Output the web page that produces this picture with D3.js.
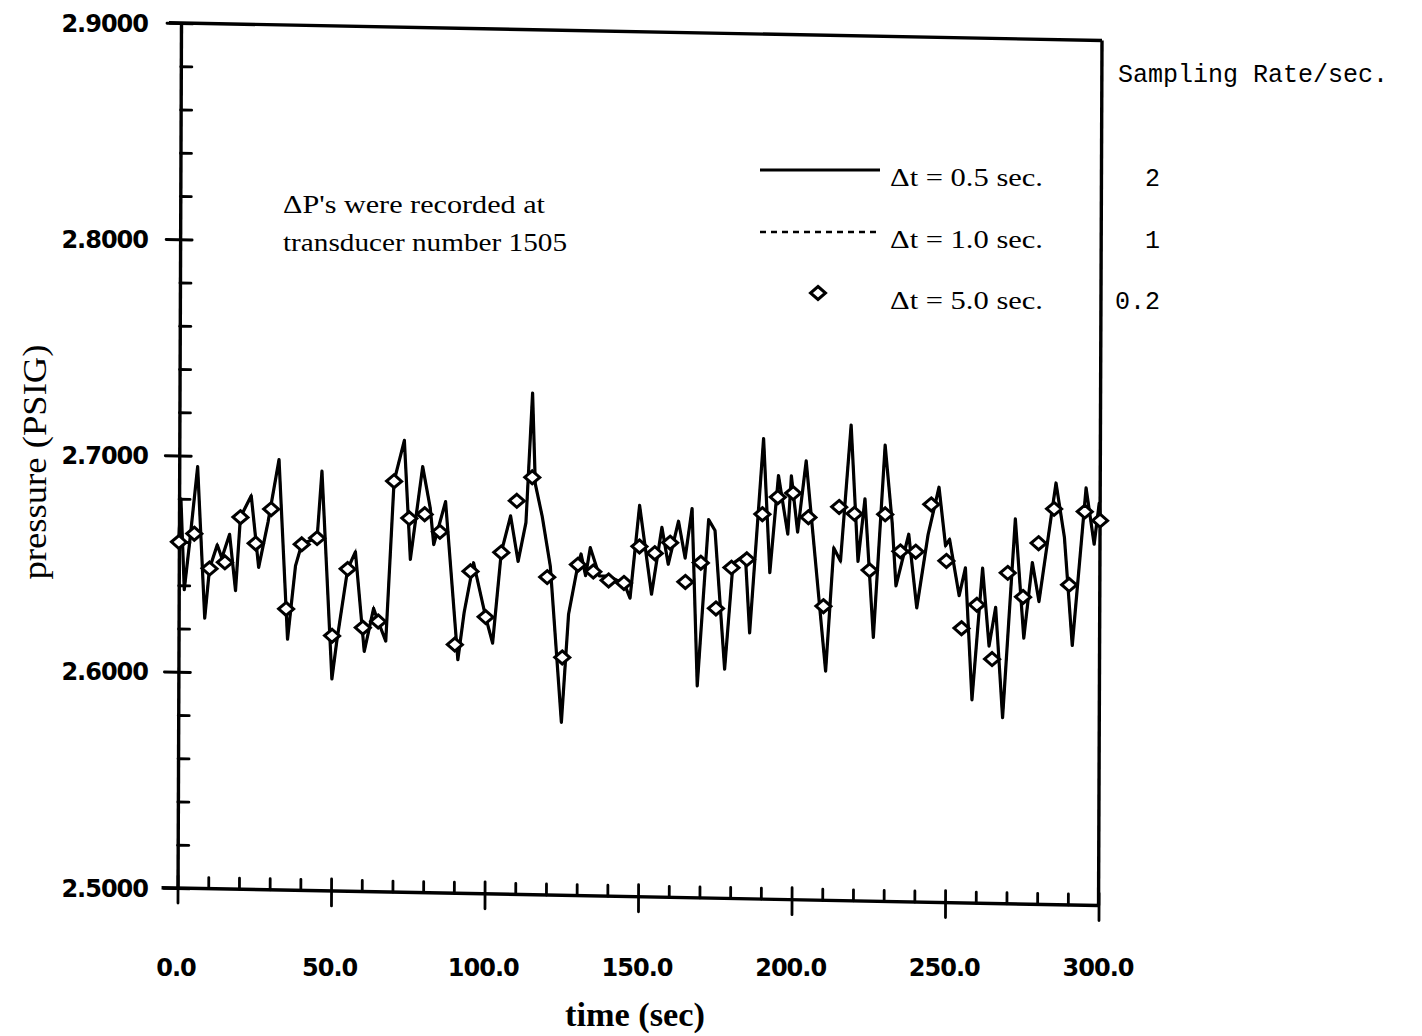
<!DOCTYPE html>
<html>
<head>
<meta charset="utf-8">
<script src="https://cdn.jsdelivr.net/npm/d3@7"></script>
<style>
  body { margin: 0; background: #fff; }
  svg { display: block; }
</style>
</head>
<body>
<script>
// ---- data ----
// solid trace (dt = 0.5 sec), vertices of the drawn path
const traceT = [0,0.6,1.8,3.5,6,8.5,10,12.5,14,16.5,18.5,20,23.5,26,29,32.5,35.5,38,40,43,
  45,46.5,50,51.5,55,57.5,60.5,63.5,65,67.5,70,73.3,75.4,79.3,81.8,83,86.8,91,93,96,
  100,102.3,105,108,110.5,113,115,116,118.3,121,124.8,127,130,131,132.5,134,137,140,143,145,
  147,150,154,157.3,159.4,162.7,164.9,167.1,169,172.5,174.6,177.9,180.5,184.5,186,190.3,192.5,195.2,198.3,199.4,
  201.5,204.2,210.8,213.3,215.5,218.8,221.2,223.4,226.3,229.9,232.3,233.6,237.7,240.4,244,247.5,249.7,251,254.2,256.2,
  258.5,261.8,264,266.1,268.5,272.4,275.3,278,280.2,285.6,288.4,291.1,295.4,298.1,299.7,300];
const traceP = [2.662,2.680,2.638,2.660,2.695,2.625,2.648,2.659,2.653,2.664,2.638,2.672,2.682,2.649,2.670,2.699,2.616,2.650,2.660,2.662,
  2.663,2.694,2.598,2.615,2.649,2.657,2.611,2.631,2.625,2.616,2.690,2.709,2.654,2.697,2.678,2.661,2.681,2.608,2.630,2.653,
  2.628,2.616,2.658,2.675,2.654,2.672,2.732,2.690,2.675,2.652,2.580,2.630,2.653,2.658,2.648,2.661,2.648,2.648,2.646,2.645,
  2.638,2.681,2.640,2.671,2.654,2.674,2.657,2.680,2.598,2.675,2.670,2.606,2.655,2.659,2.623,2.713,2.651,2.696,2.669,2.696,
  2.670,2.703,2.606,2.663,2.657,2.720,2.657,2.686,2.622,2.711,2.675,2.646,2.670,2.636,2.670,2.692,2.665,2.668,2.642,2.655,
  2.594,2.655,2.619,2.637,2.586,2.678,2.623,2.658,2.640,2.695,2.670,2.620,2.693,2.667,2.686,2.678];

// dotted trace (dt = 1.0 sec) lies on top of the solid one in the scan
const trace1T = traceT;
const trace1P = traceP;

// diamonds (dt = 5.0 sec)
const sampleT = [0,5,10,15,20,25,30,35,40,45,50,55,60,65,70,75,80,85,90,95,
  100,105,110,115,120,125,130,135,140,145,150,155,160,165,170,175,180,185,190,195,
  200,205,210,215,220,225,230,235,240,245,250,255,260,265,270,275,280,285,290,295,300];
const sampleP = [2.660,2.664,2.648,2.651,2.672,2.660,2.676,2.630,2.660,2.663,2.618,2.649,2.622,2.625,2.690,2.673,2.675,2.667,2.615,2.649,
  2.628,2.658,2.682,2.693,2.647,2.610,2.653,2.650,2.646,2.645,2.662,2.659,2.664,2.646,2.655,2.634,2.653,2.657,2.678,2.686,
  2.688,2.677,2.636,2.682,2.679,2.653,2.679,2.662,2.662,2.684,2.658,2.627,2.638,2.613,2.653,2.642,2.667,2.683,2.648,2.682,2.678];

const xTicks = [0,50,100,150,200,250,300];
const xTickLabels = ["0.0","50.0","100.0","150.0","200.0","250.0","300.0"];
const yTicks = [2.5,2.6,2.7,2.8,2.9];
const yTickLabels = ["2.5000","2.6000","2.7000","2.8000","2.9000"];

const legendLabels = ["\u0394t = 0.5 sec.","\u0394t = 1.0 sec.","\u0394t = 5.0 sec."];
const rateLabels = ["2","1","0.2"];

// ---- layout ----
const W = 921, H = 865;
let svg = d3.select("body").append("svg")
  .attr("width", 1422)
  .attr("height", 1036);

let x = d3.scaleLinear().domain([0, 300]).range([0, W]);
let y = d3.scaleLinear().domain([2.5, 2.9]).range([H, 0]);

// the scanned frame is slightly sheared
let plot = svg.append("g")
  .attr("transform", "matrix(1,0.019,-0.004,1,181,23)");

// label scales follow the un-sheared page
let xLab = d3.scaleLinear().domain([0, 300]).range([176, 1098]);
let yLab = d3.scaleLinear().domain([2.5, 2.9]).range([888, 23]);

let xMinor = d3.range(0, 301, 10).filter(v => v % 50 !== 0);
let yMinor = d3.range(2.5, 2.9001, 0.02).filter(v => Math.abs(v * 10 - Math.round(v * 10)) > 0.01);

// frame: top and right
plot.append("line")
  .attr("x1", -12).attr("x2", W).attr("y1", 0).attr("y2", 0)
  .attr("stroke", "#000").attr("stroke-width", 3.4);
plot.append("line")
  .attr("x1", W).attr("x2", W).attr("y1", 0).attr("y2", H)
  .attr("stroke", "#000").attr("stroke-width", 3.4);

// left axis, major ticks cross the line
let yAxis = plot.append("g")
  .call(d3.axisLeft(y).tickValues(yTicks).tickSize(14).tickSizeOuter(0).tickFormat(""));
yAxis.selectAll(".tick line").attr("x1", 12);
plot.append("g")
  .call(d3.axisLeft(y).tickValues(yMinor).tickSize(-11).tickSizeOuter(0).tickFormat(""))
  .call(g => g.select(".domain").remove());

// bottom axis
let xAxis = plot.append("g")
  .attr("transform", "translate(0," + H + ")")
  .call(d3.axisBottom(x).tickValues(xTicks).tickSize(15).tickSizeOuter(0).tickFormat(""));
xAxis.selectAll(".tick line").attr("y1", -12);
xAxis.select(".domain").remove();
plot.append("line")
  .attr("x1", -16).attr("x2", W).attr("y1", H).attr("y2", H)
  .attr("stroke", "#000").attr("stroke-width", 3.4);
plot.append("g")
  .attr("transform", "translate(0," + H + ")")
  .call(d3.axisBottom(x).tickValues(xMinor).tickSize(-11).tickSizeOuter(0).tickFormat(""))
  .call(g => g.select(".domain").remove());

plot.selectAll(".domain").attr("stroke-width", 3.4);
plot.selectAll(".tick line").attr("stroke-width", 2.8).attr("stroke-linecap", "round");
plot.selectAll(".tick text").remove();

// tick labels
svg.append("g").selectAll("text")
  .data(yTicks)
  .enter().append("text")
  .attr("x", 148)
  .attr("y", d => yLab(d))
  .attr("dy", "0.36em")
  .attr("text-anchor", "end")
  .attr("font-family", "DejaVu Sans")
  .attr("font-weight", "bold")
  .attr("font-size", 24)
  .attr("letter-spacing", -1)
  .text((d, i) => yTickLabels[i]);

svg.append("g").selectAll("text")
  .data(xTicks)
  .enter().append("text")
  .attr("x", d => xLab(d))
  .attr("y", 976)
  .attr("text-anchor", "middle")
  .attr("font-family", "DejaVu Sans")
  .attr("font-weight", "bold")
  .attr("font-size", 24)
  .attr("letter-spacing", -1)
  .text((d, i) => xTickLabels[i]);

// axis titles
svg.append("text")
  .attr("transform", "translate(46,462) rotate(-90)")
  .attr("text-anchor", "middle")
  .attr("font-family", "Liberation Serif")
  .attr("font-size", 34)
  .attr("textLength", 235).attr("lengthAdjust", "spacingAndGlyphs")
  .text("pressure (PSIG)");
svg.append("text")
  .attr("x", 635).attr("y", 1026)
  .attr("text-anchor", "middle")
  .attr("font-family", "Liberation Serif")
  .attr("font-size", 33)
  .attr("font-weight", "bold")
  .attr("textLength", 140).attr("lengthAdjust", "spacingAndGlyphs")
  .text("time (sec)");

// traces
let line = d3.line()
  .x(d => x(d[0]))
  .y(d => y(d[1]));

plot.append("path")
  .datum(d3.zip(trace1T, trace1P))
  .attr("fill", "none")
  .attr("stroke", "#000")
  .attr("stroke-width", 2)
  .attr("stroke-dasharray", "7,5")
  .attr("d", line);

plot.append("path")
  .datum(d3.zip(traceT, traceP))
  .attr("fill", "none")
  .attr("stroke", "#000")
  .attr("stroke-width", 3.2)
  .attr("stroke-linejoin", "round")
  .attr("d", line);

const diamond = "M0,-6.5L7.5,0L0,6.5L-7.5,0Z";
plot.selectAll(".samp")
  .data(d3.zip(sampleT, sampleP))
  .enter().append("path")
  .attr("class", "samp")
  .attr("d", diamond)
  .attr("transform", d => "translate(" + x(d[0]) + "," + y(d[1]) + ")")
  .attr("fill", "#fff")
  .attr("stroke", "#000")
  .attr("stroke-width", 3);

// annotation
svg.append("text")
  .attr("x", 283).attr("y", 213)
  .attr("font-family", "Liberation Serif").attr("font-size", 25)
  .attr("textLength", 262).attr("lengthAdjust", "spacingAndGlyphs")
  .text("\u0394P's were recorded at");
svg.append("text")
  .attr("x", 283).attr("y", 251)
  .attr("font-family", "Liberation Serif").attr("font-size", 25)
  .attr("textLength", 284).attr("lengthAdjust", "spacingAndGlyphs")
  .text("transducer number 1505");

// legend
let legY = [170, 232, 293];
let leg = svg.append("g");
leg.append("line")
  .attr("x1", 760).attr("x2", 880).attr("y1", legY[0]).attr("y2", legY[0])
  .attr("stroke", "#000").attr("stroke-width", 2.8);
leg.append("line")
  .attr("x1", 760).attr("x2", 880).attr("y1", legY[1]).attr("y2", legY[1])
  .attr("stroke", "#000").attr("stroke-width", 2.6).attr("stroke-dasharray", "6,5");
leg.append("path")
  .attr("d", diamond)
  .attr("transform", "translate(818," + legY[2] + ")")
  .attr("fill", "#fff").attr("stroke", "#000").attr("stroke-width", 3);
leg.selectAll(".lab")
  .data(legendLabels)
  .enter().append("text")
  .attr("class", "lab")
  .attr("x", 890)
  .attr("y", (d, i) => legY[i] + 16)
  .attr("font-family", "Liberation Serif").attr("font-size", 26)
  .attr("textLength", 153).attr("lengthAdjust", "spacingAndGlyphs")
  .text(d => d);

// sampling rate column
svg.append("text")
  .attr("x", 1118).attr("y", 82)
  .attr("font-family", "Liberation Mono").attr("font-size", 25)
  .text("Sampling Rate/sec.");
svg.selectAll(".rate")
  .data(rateLabels)
  .enter().append("text")
  .attr("class", "rate")
  .attr("x", 1160)
  .attr("y", (d, i) => legY[i] + 16)
  .attr("text-anchor", "end")
  .attr("font-family", "Liberation Mono").attr("font-size", 25)
  .text(d => d);
</script>
</body>
</html>
